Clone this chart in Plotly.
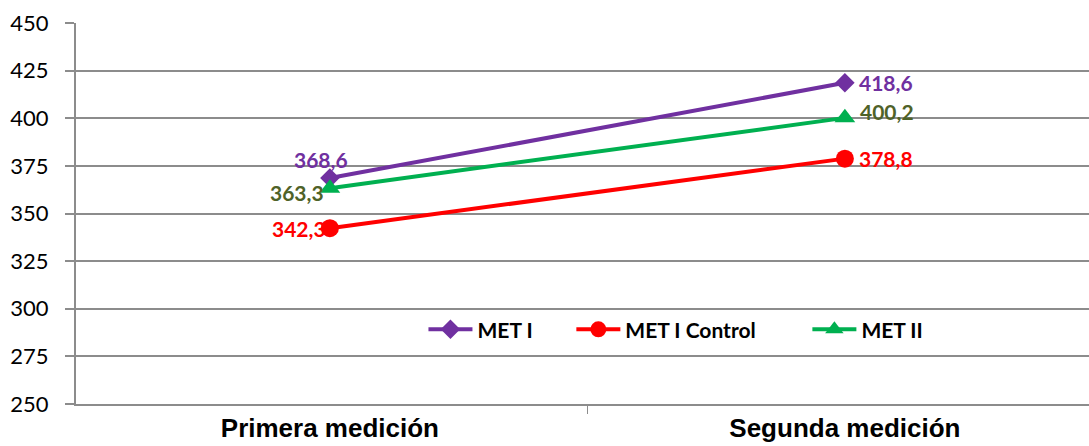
import plotly.graph_objects as go

# Measurement occasions and mean values per group
mediciones = ["Primera medición", "Segunda medición"]
met_i = [368.6, 418.6]
met_i_control = [342.3, 378.8]
met_ii = [363.3, 400.2]

y_ticks = [250, 275, 300, 325, 350, 375, 400, 425, 450]

series = [
    dict(name="MET I", y=met_i, color="#7030A0", label_color="#7030A0",
         symbol="diamond", size=15, legend="legend", lx=0.343),
    dict(name="MET I Control", y=met_i_control, color="#FF0000", label_color="#FF0000",
         symbol="circle", size=18, legend="legend2", lx=0.489),
    dict(name="MET II", y=met_ii, color="#00B050", label_color="#4F6228",
         symbol="triangle-up", size=18, legend="legend3", lx=0.722),
]

fig = go.Figure()
for s in series:
    fig.add_trace(go.Scatter(
        x=mediciones, y=s["y"], name=s["name"], mode="lines+markers",
        line=dict(color=s["color"], width=4),
        marker=dict(symbol=s["symbol"], size=s["size"], color=s["color"]),
        cliponaxis=False, legend=s["legend"],
    ))

def fmt(v):
    return f"{v:.1f}".replace(".", ",")

label_font = "Lato, Carlito, sans-serif"
# Data labels: (series index, point index, anchor, xshift, yshift)
placements = [
    (0, 0, "center", -9, 19),
    (0, 1, "left", 12, 0),
    (1, 0, "right", -2, 0),
    (1, 1, "left", 12, 0),
    (2, 0, "right", -4, -4),
    (2, 1, "left", 13, 6),
]
for si, pi, anchor, dx, dy in placements:
    s = series[si]
    fig.add_annotation(
        x=mediciones[pi], y=s["y"][pi], text=fmt(s["y"][pi]),
        showarrow=False, xanchor=anchor, yanchor="middle",
        xshift=dx, yshift=dy,
        font=dict(family=label_font, size=21, color=s["label_color"], weight="bold"),
    )

legend_style = dict(
    orientation="h", y=0.195, xanchor="left", yanchor="middle",
    font=dict(family=label_font, size=21, color="black", weight="bold"),
    bgcolor="rgba(0,0,0,0)", itemwidth=44,
)

grid_color = "#8C8C8C"
fig.update_layout(
    width=1089, height=446,
    margin=dict(l=76, r=0, t=23, b=42),
    paper_bgcolor="white", plot_bgcolor="white",
    showlegend=True,
    legend=dict(x=series[0]["lx"], **legend_style),
    legend2=dict(x=series[1]["lx"], **legend_style),
    legend3=dict(x=series[2]["lx"], **legend_style),
    xaxis=dict(
        type="category", range=[-0.493, 1.474],
        showgrid=False, showline=True, linecolor=grid_color, linewidth=2,
        ticks="outside", tickson="boundaries", ticklen=8, tickcolor=grid_color,
        tickwidth=1,
        tickfont=dict(family="Liberation Sans Narrow, Arial Narrow, Liberation Sans",
                      size=26, color="black", weight="bold"),
    ),
    yaxis=dict(
        range=[250, 450], tickvals=y_ticks,
        showgrid=True, gridcolor=grid_color, gridwidth=2,
        showline=True, linecolor=grid_color, linewidth=2,
        ticks="outside", ticklen=9, tickcolor=grid_color, tickwidth=2,
        ticklabelstandoff=12,
        tickfont=dict(family="Lato, Carlito, sans-serif", size=22, color="black"),
        zeroline=False,
    ),
)

fig.write_html("out.html")
